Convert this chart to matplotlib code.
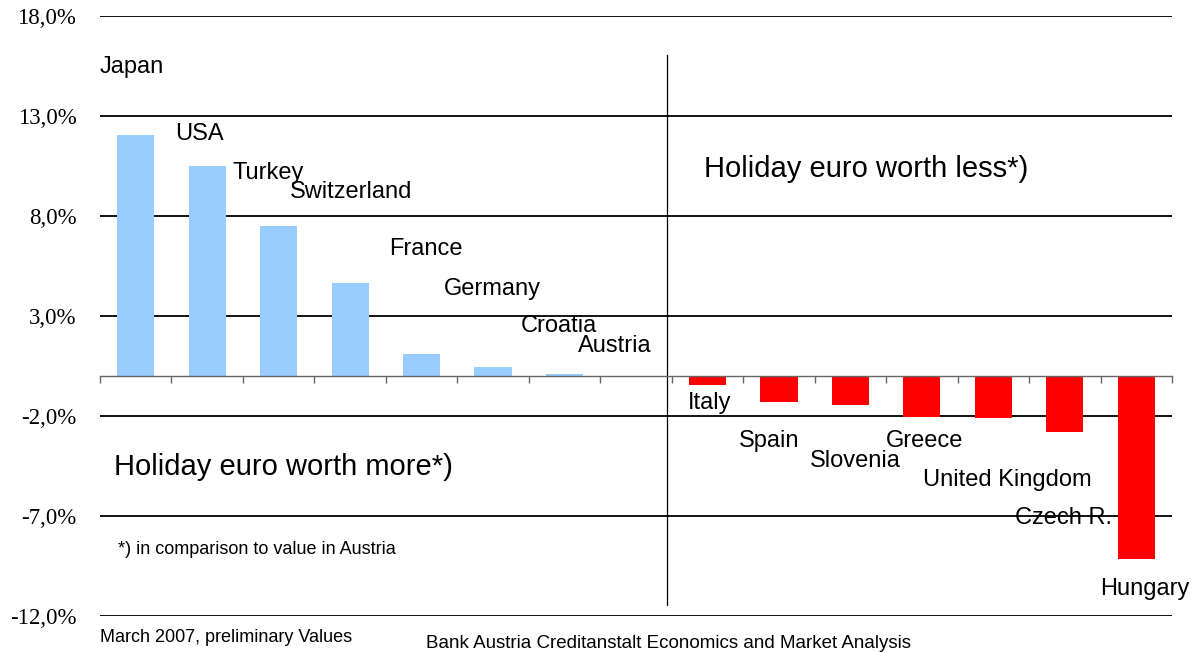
import matplotlib
matplotlib.use('Agg')
import matplotlib.pyplot as plt
import numpy as np

countries = ['Japan', 'USA', 'Turkey', 'Switzerland', 'France', 'Germany', 'Croatia', 'Austria',
             'Italy', 'Spain', 'Slovenia', 'Greece', 'United Kingdom', 'Czech R.', 'Hungary']
values = [12.05, 10.5, 7.5, 4.65, 1.1, 0.45, 0.08, 0.0,
          -0.45, -1.3, -1.47, -2.07, -2.12, -2.78, -9.17]
y_ticks = [18, 13, 8, 3, -2, -7, -12]
y_tick_labels = ['18,0%', '13,0%', '8,0%', '3,0%', '-2,0%', '-7,0%', '-12,0%']

# label anchor points (left edge, vertical centre) in data units
label_x = [-0.5, 0.55, 1.36, 2.16, 3.54, 4.31, 5.39, 6.19,
           7.72, 8.44, 9.43, 10.49, 11.02, 12.3, 13.49]
label_y = [15.45, 12.1, 10.15, 9.2, 6.35, 4.35, 2.5, 1.5,
           -1.35, -3.25, -4.25, -3.25, -5.2, -7.1, -10.65]

SANS = 'Liberation Sans'
SERIF = 'Liberation Serif'

fig = plt.figure(figsize=(11.98, 6.52), dpi=100)
ax = fig.add_axes([100/1198, 1 - 616/652, 1072/1198, 600/652])

x = np.arange(len(countries))
colors = ['#99CCFF' if v >= 0 else '#FF0000' for v in values]
ax.bar(x, values, width=0.52, color=colors, zorder=2)

ax.set_xlim(-0.5, len(countries) - 0.5)
ax.set_ylim(-12, 18)

# horizontal gridlines
for t in y_ticks:
    ax.axhline(t, color='black', lw=1.3, zorder=1)

ax.set_yticks(y_ticks)
ax.set_yticklabels(y_tick_labels, fontfamily=SERIF, fontsize=16.5)
ax.tick_params(axis='y', length=0, pad=17)

# zero axis with category boundary ticks
for s in ['top', 'right', 'left']:
    ax.spines[s].set_visible(False)
ax.spines['bottom'].set_position(('data', 0))
ax.spines['bottom'].set_color('#666666')
ax.spines['bottom'].set_linewidth(1.0)
ax.spines['bottom'].set_zorder(3)
ax.set_xticks(np.arange(-0.5, len(countries)))
ax.set_xticklabels([])
ax.tick_params(axis='x', direction='out', length=5, color='#666666', width=1)

# divider between the two groups
ax.plot([7.43, 7.43], [16.05, -11.45], color='black', lw=0.9, zorder=3)

for name, lx, ly in zip(countries, label_x, label_y):
    ax.text(lx, ly, name, fontfamily=SANS, fontsize=17, ha='left', va='center', zorder=4)

ax.text(7.95, 10.35, 'Holiday euro worth less*)', fontfamily=SANS, fontsize=21,
        ha='left', va='center')
ax.text(-0.3, -4.55, 'Holiday euro worth more*)', fontfamily=SANS, fontsize=21,
        ha='left', va='center')
ax.text(-0.25, -8.7, '*) in comparison to value in Austria', fontfamily=SANS, fontsize=13,
        ha='left', va='center')

fig.text(100/1198, 1 - 638/652, 'March 2007, preliminary Values', fontfamily=SANS,
         fontsize=13, ha='left', va='center')
fig.text(426/1198, 1 - 644/652, 'Bank Austria Creditanstalt Economics and Market Analysis',
         fontfamily=SANS, fontsize=13.5, ha='left', va='center')

fig.savefig('out.png', dpi=100)
